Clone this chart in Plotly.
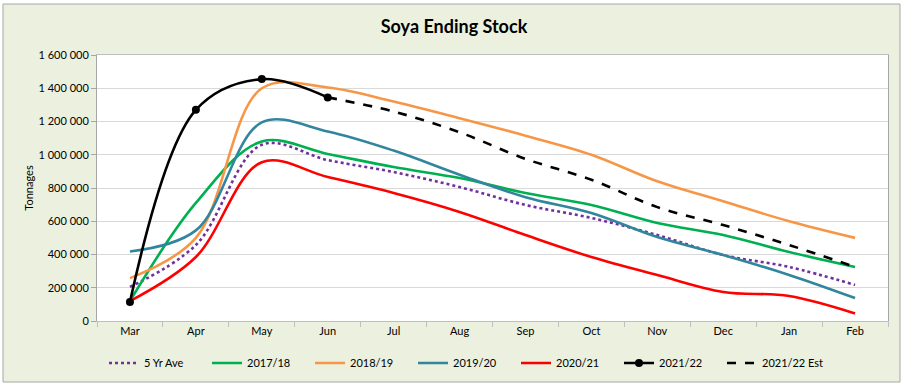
import plotly.graph_objects as go

months = ["Mar", "Apr", "May", "Jun", "Jul", "Aug", "Sep", "Oct", "Nov", "Dec", "Jan", "Feb"]

ave5 = [205000, 457000, 1060000, 968000, 896000, 806000, 698000, 620000, 517000, 397000, 325000, 217000]
y2017 = [120000, 710000, 1080000, 1005000, 926000, 860000, 770000, 698000, 590000, 517000, 415000, 325000]
y2018 = [258000, 500000, 1400000, 1405000, 1320000, 1220000, 1115000, 1000000, 840000, 720000, 600000, 500000]
y2019 = [418000, 545000, 1195000, 1140000, 1025000, 880000, 745000, 650000, 505000, 397000, 277000, 138000]
y2020 = [120000, 385000, 955000, 866000, 770000, 656000, 517000, 385000, 277000, 175000, 150000, 45000]
y2021 = [115000, 1270000, 1455000, 1345000]
y2021_months = months[:4]
y2021_est = [1345000, 1260000, 1135000, 975000, 850000, 685000, 577000, 457000, 325000]
y2021_est_months = months[3:]

FONT = "Lato, Open Sans, sans-serif"

fig = go.Figure()

def add(name, x, y, color, dash="solid", width=2.6, marker=False):
    fig.add_trace(go.Scatter(
        x=x, y=y, name=name,
        mode="lines+markers" if marker else "lines",
        line=dict(color=color, width=width, dash=dash, shape="spline", smoothing=1.0),
        marker=dict(size=8, color=color) if marker else None,
    ))

add("5 Yr Ave", months, ave5, "#7030A0", dash="dot", width=2.6)
add("2017/18", months, y2017, "#00B050")
add("2018/19", months, y2018, "#F79646")
add("2019/20", months, y2019, "#31859C")
add("2020/21", months, y2020, "#FF0000")
add("2021/22", y2021_months, y2021, "#000000", marker=True)
add("2021/22 Est", y2021_est_months, y2021_est, "#000000", dash="dash")

# plot area: x 97..888, y 55..321
L, R, T, B = 97, 20, 55, 68
W, H = 908, 389
pw, ph = W - L - R, H - T - B

def px_x(p):
    return (p - L) / pw

def px_y(p):
    return (H - B - p) / ph

fig.update_layout(
    width=W, height=H,
    margin=dict(l=L, r=R, t=T, b=B),
    paper_bgcolor="#FFFFFF",
    plot_bgcolor="#FFFFFF",
    separators=". ",
    font=dict(family=FONT, size=11, color="#000000"),
    title=dict(text="<b>Soya Ending Stock</b>", x=0.5, xref="container", xanchor="center",
               y=1 - 27 / H, yref="container", yanchor="middle",
               font=dict(family=FONT, size=18, color="#000000")),
    showlegend=True,
    legend=dict(orientation="h", x=104 / W, xref="container", xanchor="left",
                y=1 - 363 / H, yref="container", yanchor="middle",
                font=dict(family=FONT, size=11), bgcolor="rgba(0,0,0,0)",
                itemwidth=30, tracegroupgap=0, entrywidth=58, entrywidthmode="pixels"),
    xaxis=dict(type="category", categoryorder="array", categoryarray=months,
               range=[-0.5, 11.5], showgrid=False, showline=True, linecolor="#BFBFBF",
               linewidth=1, mirror=True, ticks="outside", tickson="boundaries",
               ticklen=5, tickcolor="#BFBFBF", tickfont=dict(size=11), zeroline=False),
    yaxis=dict(range=[0, 1600000], dtick=200000, tickformat=",d", showgrid=True,
               gridcolor="#D9D9D9", gridwidth=1, showline=True, linecolor="#A6A6A6",
               mirror=True, ticks="outside", ticklen=5, tickcolor="#A6A6A6",
               tickfont=dict(size=11), zeroline=False,
               title=dict(text="Tonnages", font=dict(size=11), standoff=2)),
    shapes=[
        dict(type="rect", xref="paper", yref="paper",
             x0=px_x(3), x1=px_x(900), y0=px_y(382), y1=px_y(4),
             line=dict(color="#A6A6A6", width=1), fillcolor="#EBF1DE", layer="below"),
        dict(type="rect", xref="paper", yref="paper",
             x0=0, x1=1, y0=0, y1=1,
             line=dict(width=0), fillcolor="#FFFFFF", layer="below"),
    ],
)

fig.write_html("out.html", config={"displayModeBar": False},
               post_script="document.body.style.margin='0';")
